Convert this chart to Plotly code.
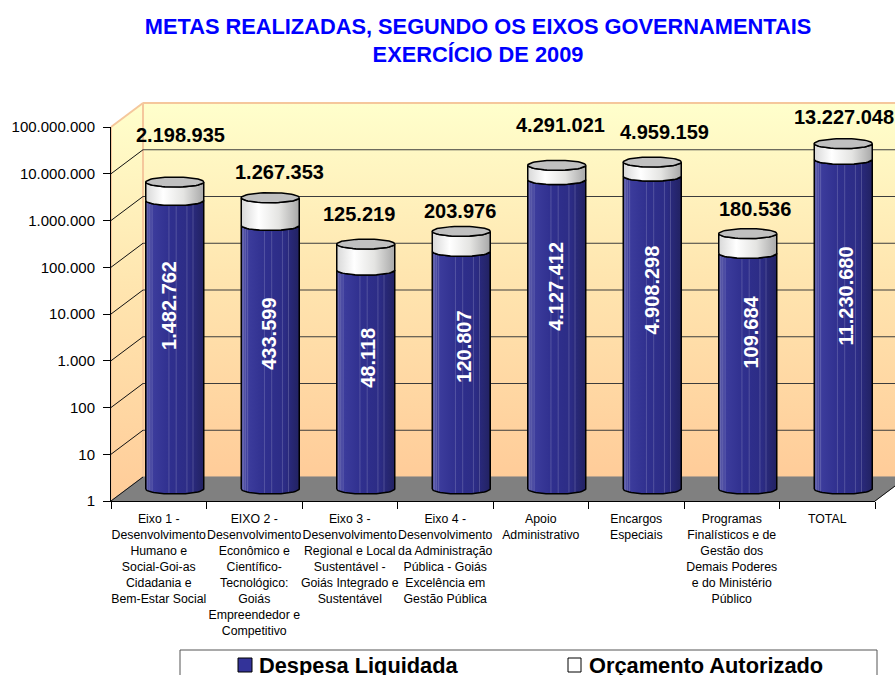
import numpy as np
import plotly.graph_objects as go

W, H = 895, 675
categories = [
    "Eixo 1 -<br>Desenvolvimento<br>Humano e<br>Social-Goi-as<br>Cidadania e<br>Bem-Estar Social",
    "EIXO 2 -<br>Desenvolvimento<br>Econômico e<br>Científico-<br>Tecnológico:<br>Goiás<br>Empreendedor e<br>Competitivo",
    "Eixo 3 -<br>Desenvolvimento<br>Regional e Local<br>Sustentável -<br>Goiás Integrado e<br>Sustentável",
    "Eixo 4 -<br>Desenvolvimento<br>da Administração<br>Pública - Goiás<br>Excelência em<br>Gestão Pública",
    "Apoio<br>Administrativo",
    "Encargos<br>Especiais",
    "Programas<br>Finalísticos e de<br>Gestão dos<br>Demais Poderes<br>e do Ministério<br>Público",
    "TOTAL",
]
despesa_liquidada = [1482762, 433599, 48118, 120807, 4127412, 4908298, 109684, 11230680]
orcamento_autorizado = [2198935, 1267353, 125219, 203976, 4291021, 4959159, 180536, 13227048]
series_names = ["Despesa Liquidada", "Orçamento Autorizado"]

# label placement (not data): share of the blue column height, and pixel nudges of the labels
inner_label_share = [0.637, 0.59, 0.598, 0.60, 0.656, 0.635, 0.667, 0.585]
inner_label_dx = [-6, -2, 2, 3, -1, 0, 3, 3]
top_label_dy = [47, 26, 30, 20, 40, 30, 25, 27]
top_label_dx = [6, 9, -7, -1, 4, 12, 7, 1]

# --- geometry in page pixels ---
FX0, FX1, FY0, FY1 = 111, 875, 501, 127      # front axis box
DX, DY = 32, 24                               # depth of the box
DEC = (FY0 - FY1) / 8                         # pixels per decade
CAT = (FX1 - FX0) / 8                         # pixels per category
RX = 29 / CAT
RY = 5 / DEC
EXTRA_LOW, EXTRA_HIGH = 0.25, 0.6             # room on the cylinder axis


def dom_y(bottom, top):
    return [1 - bottom / H, 1 - top / H]


fig = go.Figure()

# ---- subplot 1: the box (page pixels) ----
grad_wall = dict(type="vertical", colorscale=[[0, "#FFCC99"], [0.55, "#FFE6B0"], [1, "#FFFFCC"]])
WALL = "#F5C79C"
fig.add_trace(go.Scatter(
    x=[FX0, FX0 + DX, FX0 + DX, FX0, FX0],
    y=[FY1, FY1 - DY, FY0 - DY, FY0, FY1],
    mode="lines", fill="toself", fillgradient=grad_wall,
    line=dict(color=WALL, width=2), showlegend=False, hoverinfo="skip", xaxis="x", yaxis="y"))
fig.add_trace(go.Scatter(
    x=[FX0 + DX, W + 5, W + 5, FX0 + DX, FX0 + DX],
    y=[FY1 - DY, FY1 - DY, FY0 - DY, FY0 - DY, FY1 - DY],
    mode="lines", fill="toself", fillgradient=grad_wall,
    line=dict(color=WALL, width=2), showlegend=False, hoverinfo="skip", xaxis="x", yaxis="y"))
fig.add_trace(go.Scatter(
    x=[FX0, FX0 + DX, FX1 + DX, FX1, FX0],
    y=[FY0, FY0 - DY, FY0 - DY, FY0, FY0],
    mode="lines", fill="toself", fillcolor="#808080",
    line=dict(color="#808080", width=1), showlegend=False, hoverinfo="skip", xaxis="x", yaxis="y"))
# slanted grid lines on the side wall and the floor's right edge
sx, sy = [], []
for d in range(0, 8):
    yy = FY0 - d * DEC
    sx += [FX0, FX0 + DX, None]
    sy += [yy, yy - DY, None]
sx += [FX1, FX1 + DX]
sy += [FY0, FY0 - DY]
fig.add_trace(go.Scatter(x=sx, y=sy, mode="lines", line=dict(color="#111111", width=1),
                         showlegend=False, hoverinfo="skip", xaxis="x", yaxis="y"))
# back-wall grid lines
gx, gy = [], []
for d in range(1, 8):
    gx += [-0.5, 7.5, None]
    gy += [10.0 ** d, 10.0 ** d, None]
fig.add_trace(go.Scatter(x=gx, y=gy, mode="lines", line=dict(color="#3c3c3c", width=1),
                         showlegend=False, hoverinfo="skip", xaxis="x2", yaxis="y2"))

# ---- subplot 3: cylinders ----
BLUE = [[0, "#5A5AA6"], [0.12, "#3C3C9C"], [0.4, "#30308F"], [0.75, "#2C2C85"], [1, "#222262"]]
LIGHT = [[0, "#D8D8D8"], [0.3, "#FFFFFF"], [0.65, "#E4E4E2"], [1, "#A8A8A8"]]
stripes = [-0.93, -0.86, -0.78, -0.2, 0.05, 0.42, 0.63]
t_low = np.linspace(np.pi, 2 * np.pi, 30)   # front half, left to right
t_all = np.linspace(0, 2 * np.pi, 60)


def front(i, level, t=t_low):
    return i + RX * np.cos(t), 10 ** (level + RY * np.sin(t))


for i, (blue, extra) in enumerate(zip(despesa_liquidada, orcamento_autorizado)):
    lb = np.log10(blue)
    lt = np.log10(blue + extra)
    bx, by = front(i, 0)
    tx, ty = front(i, lb)
    fig.add_trace(go.Scatter(
        x=list(bx) + list(tx[::-1]) + [bx[0]], y=list(by) + list(ty[::-1]) + [by[0]],
        mode="lines", fill="toself", fillgradient=dict(type="horizontal", colorscale=BLUE),
        line=dict(color="#000000", width=1.5), showlegend=False, hoverinfo="skip",
        xaxis="x3", yaxis="y3"))
    sxx, syy = [], []
    for s in stripes:
        a = np.arccos(s)
        sxx += [i + RX * s, i + RX * s, None]
        syy += [10 ** (-RY * np.sin(a) + 0.02), 10 ** (lb - RY * np.sin(a) - 0.02), None]
    fig.add_trace(go.Scatter(x=sxx, y=syy, mode="lines",
                             line=dict(color="rgba(190,190,225,0.25)", width=1),
                             showlegend=False, hoverinfo="skip", xaxis="x3", yaxis="y3"))
    ux, uy = front(i, lb)
    vx, vy = front(i, lt)
    fig.add_trace(go.Scatter(
        x=list(ux) + list(vx[::-1]) + [ux[0]], y=list(uy) + list(vy[::-1]) + [uy[0]],
        mode="lines", fill="toself", fillgradient=dict(type="horizontal", colorscale=LIGHT),
        line=dict(color="#000000", width=1.5), showlegend=False, hoverinfo="skip",
        xaxis="x3", yaxis="y3"))
    ex, ey = front(i, lt, t_all)
    fig.add_trace(go.Scatter(x=ex, y=ey, mode="lines", fill="toself", fillcolor="#C0C0C0",
                             line=dict(color="#000000", width=1.5), showlegend=False,
                             hoverinfo="skip", xaxis="x3", yaxis="y3"))

# ---- subplot 4: front axes carrying categories and ticks ----
fig.add_trace(go.Scatter(x=categories, y=despesa_liquidada, mode="none", showlegend=False,
                         hoverinfo="skip", xaxis="x4", yaxis="y4"))

# ---- labels ----
ann = []
for i, (blue, extra) in enumerate(zip(despesa_liquidada, orcamento_autorizado)):
    lb = np.log10(blue)
    lt = np.log10(blue + extra)
    ann.append(dict(x=i, y=lb * inner_label_share[i], xref="x3", yref="y3", textangle=-90,
                    xshift=inner_label_dx[i],
                    text=f"{blue:,d}".replace(",", "."), showarrow=False,
                    font=dict(family="Arial", size=20, color="#FFFFFF", weight="bold")))
    ann.append(dict(x=i, y=lt, xref="x3", yref="y3", yshift=top_label_dy[i], xshift=top_label_dx[i],
                    text=f"{extra:,d}".replace(",", "."), showarrow=False,
                    font=dict(family="Arial", size=20, color="#000000", weight="bold")))

# ---- legend box, drawn in page pixels so it can run off the bottom like the reference ----
shapes = [
    dict(type="rect", xref="x", yref="y", x0=180, x1=877, y0=650, y1=H + 20,
         line=dict(color="#555555", width=1), fillcolor="#FFFFFF", layer="above"),
    dict(type="rect", xref="x", yref="y", x0=238, x1=252, y0=658, y1=672,
         line=dict(color="#000000", width=1), fillcolor="#333399", layer="above"),
    dict(type="rect", xref="x", yref="y", x0=568, x1=581, y0=658, y1=672,
         line=dict(color="#000000", width=1), fillcolor="#FFFFFF", layer="above"),
]
for name, xpos in zip(series_names, [257, 587]):
    ann.append(dict(x=xpos, y=665, xref="x", yref="y", xanchor="left", yanchor="middle",
                    text=name, showarrow=False,
                    font=dict(family="Arial", size=21.8, color="#000000", weight="bold")))

off = dict(visible=False, fixedrange=True)
fig.update_layout(
    width=W, height=H, autosize=False,
    margin=dict(l=0, r=0, t=0, b=0, pad=0, autoexpand=False),
    paper_bgcolor="#FFFFFF", plot_bgcolor="rgba(0,0,0,0)",
    separators=",.",
    font=dict(family="Arial", color="#000000"),
    title=dict(text="METAS REALIZADAS, SEGUNDO OS EIXOS GOVERNAMENTAIS<br>EXERCÍCIO DE 2009",
               x=478 / W, xanchor="center", y=1 - 34 / H, yanchor="top",
               font=dict(family="Arial", size=21.8, color="#0000FF", weight="bold")),
    xaxis=dict(domain=[0, 1], range=[0, W], **off),
    yaxis=dict(domain=[0, 1], range=[H, 0], **off),
    xaxis2=dict(domain=[(FX0 + DX) / W, 1], range=[-0.5, -0.5 + (W - FX0 - DX) / CAT], anchor="y2", **off),
    yaxis2=dict(domain=dom_y(FY0 - DY, FY1 - DY), type="log", range=[0, 8], anchor="x2", **off),
    xaxis3=dict(domain=[(FX0 + DX / 2) / W, (FX1 + DX / 2) / W], range=[-0.5, 7.5], anchor="y3", **off),
    yaxis3=dict(domain=dom_y(FY0 - DY / 2 + EXTRA_LOW * DEC, FY1 - DY / 2 - EXTRA_HIGH * DEC),
                type="log", range=[-EXTRA_LOW, 8 + EXTRA_HIGH], anchor="x3", **off),
    xaxis4=dict(domain=[FX0 / W, FX1 / W], type="category", categoryorder="array",
                categoryarray=categories, range=[-0.5, 7.5], anchor="y4",
                tickson="boundaries", ticks="outside", ticklen=7, tickcolor="#000000",
                showline=True, linecolor="#000000", linewidth=1, showgrid=False, tickangle=0,
                ticklabelstandoff=6,
                tickfont=dict(family="Arial", size=12.3, color="#000000"), fixedrange=True),
    yaxis4=dict(domain=dom_y(FY0, FY1), type="log", range=[0, 8], dtick=1, anchor="x4",
                tickformat=",d", ticks="outside", ticklen=7, tickcolor="#000000",
                showline=True, linecolor="#000000", linewidth=1, showgrid=False, zeroline=False,
                ticklabelstandoff=5,
                tickfont=dict(family="Arial", size=15, color="#000000"), fixedrange=True),
    annotations=ann,
    shapes=shapes,
    showlegend=False,
)
fig.write_html("out.html", config={"displayModeBar": False},
               post_script="document.body.style.margin='0';")
